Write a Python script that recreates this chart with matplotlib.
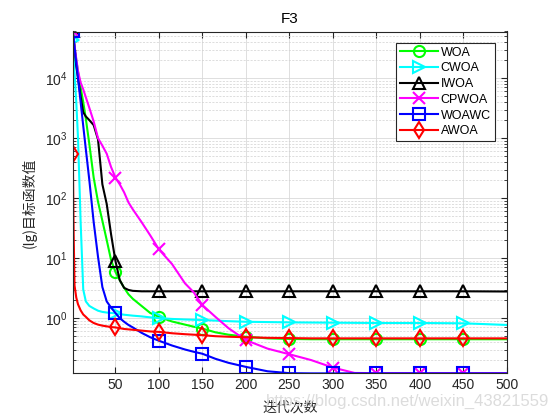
import numpy as np
import matplotlib
matplotlib.use('Agg')
import matplotlib.pyplot as plt

plt.rcParams['font.family'] = ['Liberation Sans', 'Noto Sans CJK SC', 'DejaVu Sans']
plt.rcParams['mathtext.fontset'] = 'custom'
plt.rcParams['mathtext.rm'] = 'Liberation Sans'
plt.rcParams['mathtext.it'] = 'Liberation Sans:italic'

iters = [1, 2, 3, 5, 7, 10, 13, 16, 20, 25, 30, 35, 40, 45, 50, 55, 60, 65, 70, 80,
         90, 100, 115, 130, 140, 150, 165, 180, 200, 225, 250, 275, 300, 325, 350,
         400, 450, 500]

woa = [6.0e4, 4.5e4, 3.4e4, 2.0e4, 1.3e4, 7000, 4000, 2100, 800, 220,
       87, 42, 20, 9.3, 5.9, 4.3, 3.2, 2.5, 2.1, 1.6,
       1.22, 1.05, 0.88, 0.78, 0.72, 0.67, 0.58, 0.53, 0.49, 0.46,
       0.45, 0.445, 0.445, 0.445, 0.445, 0.445, 0.445, 0.445]
cwoa = [4.3e4, 2.3e4, 1.2e4, 4000, 1000, 40, 3.0, 1.9, 1.6, 1.45,
        1.33, 1.27, 1.24, 1.22, 1.2, 1.17, 1.14, 1.12, 1.1, 1.07,
        1.03, 1.0, 0.97, 0.95, 0.94, 0.93, 0.91, 0.89, 0.87, 0.86,
        0.85, 0.845, 0.84, 0.835, 0.83, 0.83, 0.82, 0.77]
iwoa = [6.0e4, 4.5e4, 3.2e4, 1.6e4, 1.0e4, 5000, 2700, 2300, 2000, 1650,
        950, 170, 80, 25, 9.0, 4.3, 3.2, 2.95, 2.85, 2.8,
        2.8, 2.8, 2.8, 2.8, 2.8, 2.8, 2.8, 2.8, 2.8, 2.8,
        2.8, 2.8, 2.8, 2.8, 2.8, 2.8, 2.8, 2.78]
cpwoa = [6.0e4, 4.5e4, 3.5e4, 2.1e4, 1.3e4, 8500, 6500, 4800, 3200, 1900,
         1000, 750, 550, 330, 220, 170, 125, 85, 65, 40,
         24, 14, 8, 3.8, 2.7, 1.65, 1.05, 0.68, 0.43, 0.31,
         0.25, 0.2, 0.15, 0.122, 0.121, 0.121, 0.121, 0.121]
woawc = [6.0e4, 4.5e4, 3.3e4, 1.8e4, 1.0e4, 4000, 1600, 650, 200, 40,
         10.5, 3.3, 1.9, 1.5, 1.22, 1.0, 0.87, 0.77, 0.7, 0.57,
         0.48, 0.42, 0.35, 0.3, 0.275, 0.255, 0.21, 0.18, 0.154, 0.13,
         0.121, 0.12, 0.12, 0.12, 0.12, 0.12, 0.12, 0.12]
awoa = [550, 25, 3.5, 2.2, 1.7, 1.35, 1.15, 1.05, 0.92, 0.83,
        0.78, 0.75, 0.73, 0.71, 0.7, 0.68, 0.66, 0.65, 0.64, 0.62,
        0.6, 0.59, 0.56, 0.54, 0.53, 0.52, 0.5, 0.49, 0.48, 0.47,
        0.465, 0.46, 0.46, 0.46, 0.46, 0.46, 0.46, 0.46]

names = ['WOA', 'CWOA', 'IWOA', 'CPWOA', 'WOAWC', 'AWOA']
series = [woa, cwoa, iwoa, cpwoa, woawc, awoa]
colors = ['#00ff00', '#00ffff', 'k', '#ff00ff', '#0000ff', '#ff0000']
markers = ['o', '>', '^', 'x', 's', 'd']
marker_iters = [1, 50, 100, 150, 200, 250, 300, 350, 400, 450]
mark_idx = [iters.index(m) for m in marker_iters]

fig = plt.figure(figsize=(5.6, 4.2), dpi=100)
ax = fig.add_axes([0.13, 0.111, 0.775, 0.814])

for name, vals, c, m in zip(names, series, colors, markers):
    ax.semilogy(iters, vals, color=c, lw=1.5, marker=m, markevery=mark_idx,
                ms=8, mfc='none', mew=1.5, label=name)

allv = np.concatenate([np.array(s) for s in series])
ax.set_xlim(1, 500)
ax.set_ylim(allv.min(), allv.max())
ax.set_xticks([50, 100, 150, 200, 250, 300, 350, 400, 450, 500])
ax.set_yticks([1, 10, 100, 1000, 10000])

ax.grid(True, which='major', color='#d9d9d9', lw=0.6)
ax.grid(True, which='minor', axis='y', color='#d0d0d0', lw=0.5, ls=(0, (3, 2)))
ax.tick_params(which='both', direction='in', top=True, right=True,
               colors='#262626', labelsize=10, length=4)
ax.tick_params(which='minor', length=2)
ax.tick_params(axis='x', which='minor', top=False, bottom=False)
for s in ax.spines.values():
    s.set_color('#262626')
    s.set_linewidth(0.8)

ax.set_title('F3', fontsize=11, pad=6)
ax.set_xlabel('迭代次数', fontsize=10, family=['Noto Sans CJK SC'], color='#262626',
              labelpad=6)
ax.set_ylabel('(lg)目标函数值', fontsize=10, family=['Noto Sans CJK SC', 'DejaVu Sans'],
              color='#262626', labelpad=6)

leg = ax.legend(loc='upper right', bbox_to_anchor=(0.972, 0.967), fontsize=9,
                handlelength=3.1, labelspacing=0.3, borderaxespad=0, fancybox=False,
                framealpha=1, edgecolor='#262626', numpoints=1, borderpad=0.3,
                handletextpad=0.2)
leg.get_frame().set_linewidth(0.8)

# csdn watermark, drawn underneath the x label
fig.text(0.98, 0.045, 'https://blog.csdn.net/weixin_43821559', ha='right', va='center',
         fontsize=12, color='#dcdcdc', zorder=0)

fig.savefig('out.png', dpi=100)
